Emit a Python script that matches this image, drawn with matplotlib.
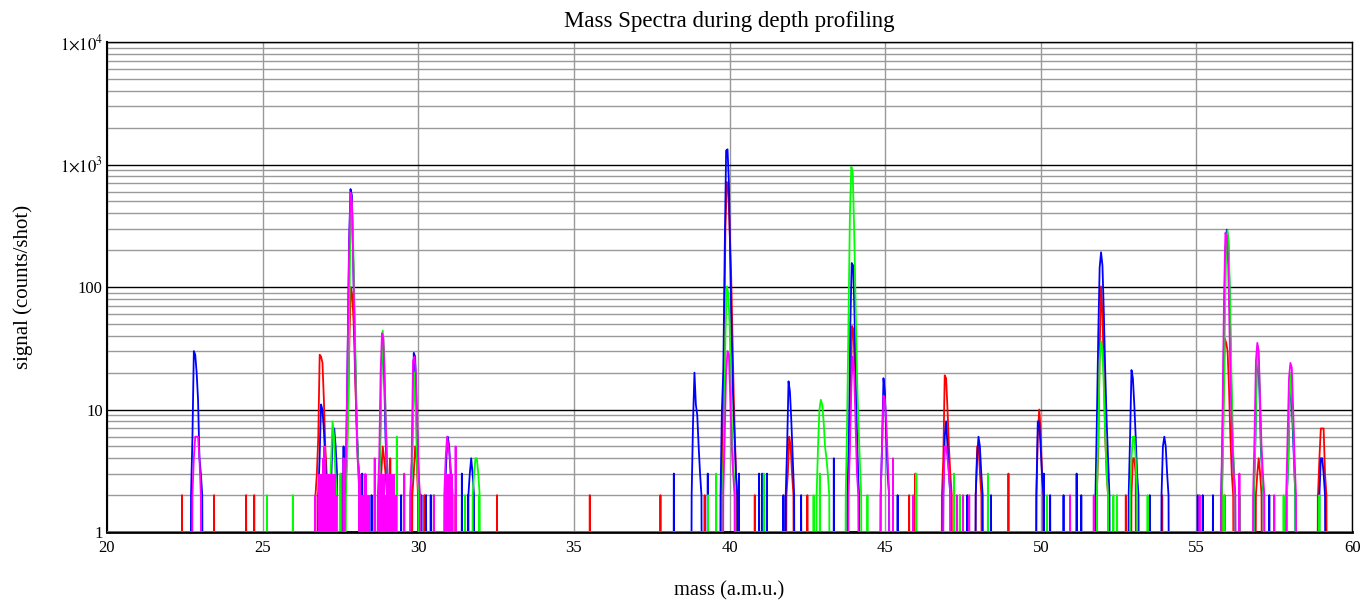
import matplotlib
matplotlib.use("Agg")
import matplotlib.pyplot as plt
from matplotlib.ticker import FixedLocator, FixedFormatter, LogLocator, NullFormatter

plt.rcParams['font.family'] = ['Liberation Serif', 'DejaVu Serif']
plt.rcParams['mathtext.fontset'] = 'stix'

# ---------------------------------------------------------------
# Données (masse au centre, coups par point)
# ---------------------------------------------------------------
pas = 0.045  # espacement des points dans un pic (u.m.a.)

red_peaks = [
    (26.90, [2, 3, 6, 28, 27, 24, 12, 5, 3, 2]),
    (27.88, [2, 4, 10, 40, 100, 85, 50, 20, 8, 4, 2]),
    (28.88, [2, 3, 5, 4, 3, 2]),
    (29.90, [2, 3, 5, 4, 2]),
    (39.98, [2, 5, 30, 300, 720, 650, 300, 139, 40, 12, 5, 2]),
    (41.94, [2, 3, 6, 5, 3, 2]),
    (43.98, [2, 4, 12, 48, 45, 20, 8, 3, 2]),
    (46.98, [2, 4, 19, 18, 10, 5, 3, 2]),
    (48.00, [2, 5, 5, 3, 2]),
    (49.97, [2, 6, 10, 7, 3, 2]),
    (51.98, [2, 5, 30, 101, 60, 20, 6, 3, 2]),
    (52.98, [2, 4, 4, 3]),
    (56.00, [2, 10, 38, 35, 30, 15, 6, 3, 2]),
    (57.00, [2, 3, 4, 3, 2]),
    (59.04, [2, 4, 7, 7, 7, 3, 2]),
]
red_noise_mass = [22.41, 23.44, 24.47, 24.73, 27.55, 28.2, 29.1, 30.2, 31.2, 32.53,
                  35.51, 37.78, 39.2, 40.81, 42.5, 45.77, 45.97, 47.4, 48.96, 52.73,
                  53.9, 55.9, 58.9]
red_noise_counts = [2, 2, 2, 2, 3, 2, 4, 2, 2, 2,
                    2, 2, 2, 2, 2, 2, 3, 2, 3, 2,
                    2, 2, 2]

blue_peaks = [
    (22.88, [2, 6, 30, 28, 20, 12, 4, 3, 2]),
    (26.92, [2, 4, 11, 10, 7, 4, 2]),
    (27.30, [3, 7, 7, 5, 3]),
    (27.89, [2, 5, 30, 235, 630, 560, 150, 40, 12, 5, 3, 2]),
    (28.88, [2, 4, 20, 35, 20, 6, 3, 2]),
    (29.90, [2, 5, 29, 27, 10, 4, 2]),
    (30.97, [2, 4, 6, 5, 3, 2]),
    (31.70, [2, 3, 4, 3, 2]),
    (38.94, [2, 8, 20, 11, 9, 5, 3, 2]),
    (39.98, [2, 10, 21, 200, 1300, 1330, 700, 150, 40, 12, 6, 3, 2]),
    (41.94, [2, 5, 17, 14, 8, 4, 2]),
    (43.97, [2, 6, 50, 157, 150, 60, 15, 5, 2]),
    (44.99, [2, 5, 18, 14, 6, 3, 2]),
    (46.98, [2, 6, 8, 5, 3, 2]),
    (48.02, [2, 4, 6, 5, 3, 2]),
    (49.97, [2, 8, 8, 5, 3, 2]),
    (51.98, [2, 8, 40, 144, 192, 150, 60, 20, 8, 4, 2]),
    (52.98, [2, 6, 21, 18, 11, 6, 3, 2]),
    (53.99, [2, 5, 6, 5, 3, 2]),
    (56.02, [2, 6, 40, 200, 294, 250, 90, 20, 6, 3, 2]),
    (57.00, [2, 5, 20, 26, 15, 5, 3, 2]),
    (58.04, [2, 4, 12, 15, 8, 4, 2]),
    (59.04, [2, 4, 4, 3, 2]),
]
blue_noise_mass = [27.6, 28.2, 28.5, 29.3, 29.45, 30.1, 30.25, 30.4, 31.4, 31.6,
                   38.21, 39.3, 40.3, 40.95, 41.05, 41.2, 41.73, 42.3, 43.35, 45.4,
                   47.64, 48.4, 50.1, 50.3, 50.73, 51.15, 51.3, 53.5, 55.04, 55.2,
                   55.53, 57.34]
blue_noise_counts = [5, 3, 2, 2, 2, 2, 2, 2, 3, 2,
                     3, 3, 3, 3, 3, 3, 2, 2, 4, 2,
                     2, 2, 3, 2, 2, 3, 2, 2, 2, 2,
                     2, 2]

green_peaks = [
    (27.27, [2, 4, 8, 6, 3, 2]),
    (27.90, [2, 4, 20, 200, 490, 300, 80, 20, 6, 3, 2]),
    (28.88, [2, 4, 15, 44, 30, 10, 4, 2]),
    (29.88, [2, 3, 10, 20, 8, 3, 2]),
    (31.86, [2, 3, 4, 4, 3, 2]),
    (39.98, [2, 6, 40, 101, 90, 50, 15, 5, 3, 2]),
    (43.00, [2, 5, 10, 12, 11, 8, 5, 4, 3, 2]),
    (43.98, [2, 8, 60, 400, 960, 850, 300, 80, 20, 8, 4, 2]),
    (51.98, [2, 6, 25, 36, 30, 15, 6, 3, 2]),
    (52.98, [2, 4, 6, 6, 4, 2]),
    (56.02, [2, 6, 40, 200, 290, 200, 60, 15, 5, 2]),
    (57.00, [2, 5, 20, 33, 18, 6, 3, 2]),
    (58.04, [2, 4, 12, 20, 10, 5, 2]),
]
green_noise_mass = [25.14, 25.97, 27.5, 28.3, 28.6, 29.31, 30.5, 31.5, 31.95, 39.31,
                    39.57, 41.1, 42.7, 42.9, 44.43, 46.0, 47.21, 47.4, 48.3, 50.2,
                    52.33, 52.45, 53.43, 55.89, 56.4, 57.8, 58.95]
green_noise_counts = [2, 2, 3, 3, 2, 6, 2, 2, 2, 2,
                      3, 3, 2, 3, 2, 3, 3, 2, 3, 2,
                      2, 2, 2, 2, 2, 2, 2]

magenta_peaks = [
    (22.88, [2, 4, 6, 6, 6, 4, 2]),
    (27.89, [2, 5, 30, 200, 590, 500, 150, 40, 10, 4, 3, 2]),
    (28.88, [2, 4, 20, 42, 38, 15, 6, 3, 2]),
    (29.90, [2, 4, 25, 27, 20, 8, 3, 2]),
    (30.97, [2, 4, 6, 5, 4, 3, 2]),
    (39.98, [2, 6, 20, 30, 28, 12, 5, 3, 2]),
    (43.98, [2, 5, 15, 27, 20, 8, 3, 2]),
    (44.99, [2, 5, 13, 12, 8, 4, 2]),
    (46.98, [2, 5, 5, 4, 3, 2]),
    (56.02, [2, 10, 80, 277, 260, 150, 40, 12, 5, 3, 2]),
    (57.00, [2, 6, 25, 35, 30, 12, 5, 3, 2]),
    (58.04, [2, 6, 18, 24, 22, 10, 4, 2]),
]
magenta_noise_mass = [26.69, 27.6, 28.6, 29.0, 29.55, 30.5, 31.2, 45.25, 45.9, 47.3,
                      47.5, 47.7, 50.94, 51.7, 55.1, 56.38, 57.5]
magenta_noise_counts = [2, 4, 4, 3, 3, 2, 5, 4, 2, 2,
                        2, 2, 2, 2, 2, 3, 2]

# zones magenta où les traits serrés forment un aplat (début, coups successifs)
magenta_band_start = [26.79, 28.05, 28.72, 30.86]
magenta_band_counts = [
    [3, 3, 3, 4, 5, 5, 3, 3, 3, 3, 3, 3, 3, 2],
    [2, 3, 3, 2, 2, 3, 3, 2, 2, 2],
    [3, 3, 3, 3, 3, 2, 3, 3, 3, 3, 3, 3, 2, 2],
    [3, 3, 3, 3, 3, 3, 3],
]


def spectre(pics, masses_bruit, coups_bruit):
    """Assemble une trace continue : ligne de base a 1 entre les pics."""
    segments = []
    for centre, hauteurs in pics:
        n = len(hauteurs)
        xs = [centre + pas * (i - (n - 1) / 2) for i in range(n)]
        segments.append((xs, list(hauteurs)))
    for m, c in zip(masses_bruit, coups_bruit):
        segments.append(([m], [c]))
    segments.sort(key=lambda s: s[0][0])
    x_tot, y_tot = [20.0], [1]
    for xs, ys in segments:
        x_tot += [xs[0] - 0.004] + xs + [xs[-1] + 0.004]
        y_tot += [1] + ys + [1]
    x_tot.append(60.0)
    y_tot.append(1)
    return x_tot, y_tot


fig = plt.figure(figsize=(13.63, 6.0), dpi=100)
ax = fig.add_axes([0.0785, 0.1133, 0.9135, 0.8167])

for pics, mb, cb, couleur in [
    (red_peaks, red_noise_mass, red_noise_counts, "#ff0000"),
    (blue_peaks, blue_noise_mass, blue_noise_counts, "#0000ff"),
    (green_peaks, green_noise_mass, green_noise_counts, "#00ff00"),
    (magenta_peaks, magenta_noise_mass, magenta_noise_counts, "#ff00ff"),
]:
    x, y = spectre(pics, mb, cb)
    ax.plot(x, y, color=couleur, linewidth=1.3, zorder=3)

# aplats magenta (bruit très dense)
for debut, coups in zip(magenta_band_start, magenta_band_counts):
    xb = [debut + pas * i for i in range(len(coups))]
    ax.fill_between(xb, 1, coups, step="mid", color="#ff00ff", linewidth=0, zorder=3)

ax.set_yscale("log")
ax.set_xlim(20, 60)
ax.set_ylim(1, 1e4)

ax.set_xticks([20, 25, 30, 35, 40, 45, 50, 55, 60])
ax.yaxis.set_major_locator(FixedLocator([1, 10, 100, 1000, 10000]))
ax.yaxis.set_major_formatter(FixedFormatter(["1", "10", "100",
                                             r"$1{\times}10^{3}$", r"$1{\times}10^{4}$"]))
ax.yaxis.set_minor_locator(LogLocator(base=10, subs=range(2, 10)))
ax.yaxis.set_minor_formatter(NullFormatter())

ax.grid(True, which="major", axis="y", color="black", linewidth=1.0, zorder=1)
ax.grid(True, which="minor", axis="y", color="#999999", linewidth=1.0, zorder=1)
ax.grid(True, which="major", axis="x", color="#999999", linewidth=1.0, zorder=1)
ax.set_axisbelow(True)

ax.tick_params(axis="both", which="both", length=0, labelsize=12)
ax.tick_params(axis="x", pad=6)
ax.tick_params(axis="y", pad=3)
for nom, sp in ax.spines.items():
    sp.set_color("black")
    sp.set_linewidth(1.0)
ax.spines["bottom"].set_linewidth(2.0)
ax.spines["left"].set_linewidth(1.5)

ax.set_title("Mass Spectra during depth profiling", fontsize=16.5, pad=11)
ax.set_xlabel("mass (a.m.u.)", fontsize=14.8, labelpad=18)
ax.set_ylabel("signal (counts/shot)", fontsize=15, labelpad=19)

fig.savefig("out.png", dpi=100)
